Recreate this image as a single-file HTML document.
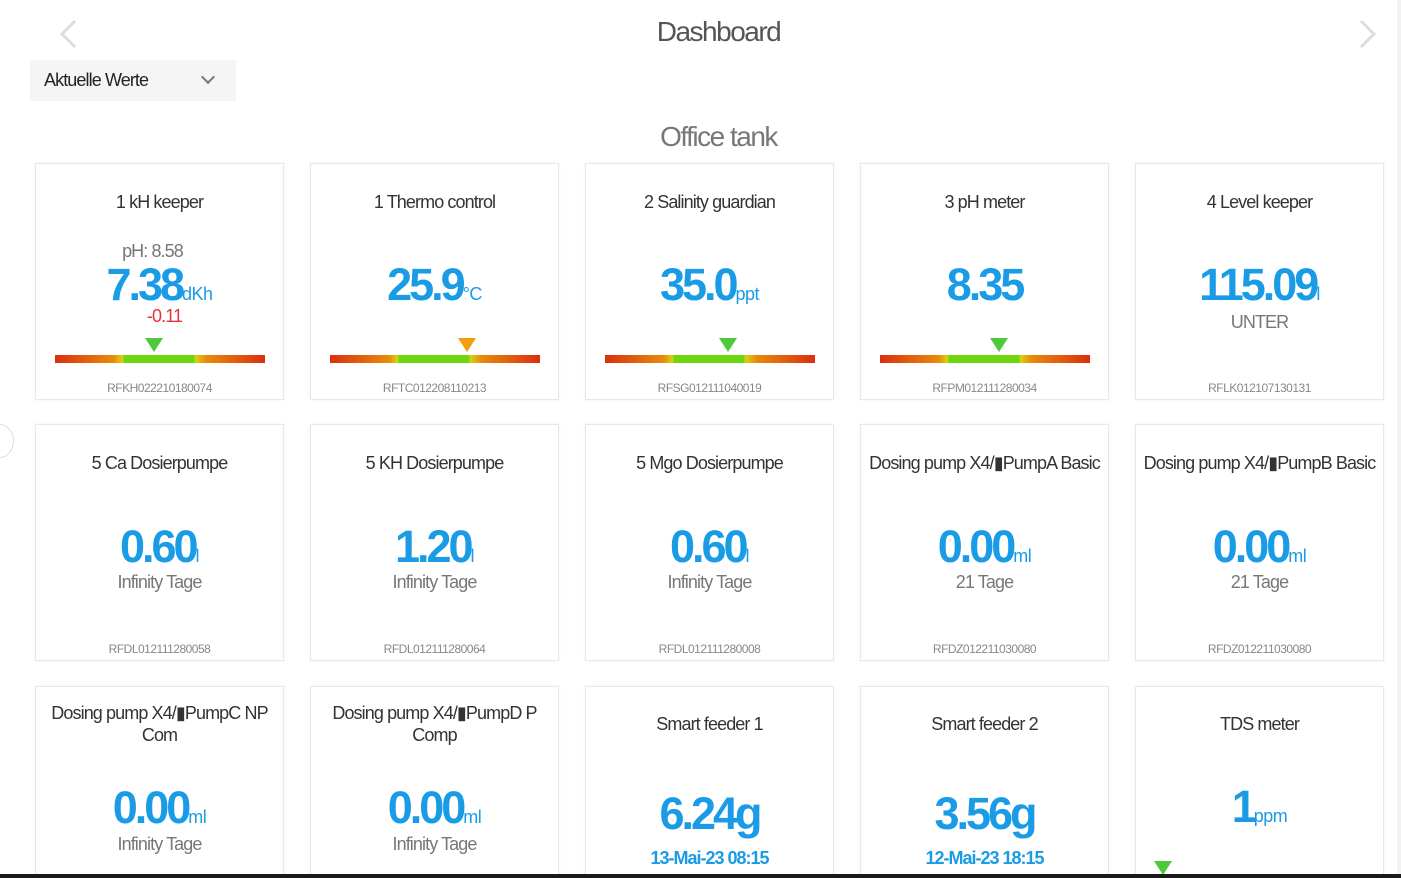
<!DOCTYPE html>
<html style="height:878px;overflow:hidden"><head><meta charset="utf-8"><style>
*{margin:0;padding:0;box-sizing:border-box}
body{width:1401px;height:878px;overflow:hidden;background:#fff;position:relative;font-family:"Liberation Sans Narrow","Liberation Sans",sans-serif}
.a{position:absolute;left:0;right:0;text-align:center;white-space:nowrap}
.card{position:absolute;width:249px;height:237px;background:#fff;border:1px solid #e8e8e8;box-shadow:0 0 3px rgba(0,0,0,.06);overflow:hidden}
.r3{height:200px}
.t{font-size:18px;color:#333;line-height:22px;letter-spacing:-0.9px}
.v{font-size:45px;font-weight:bold;color:#1a9be6;line-height:50px;letter-spacing:-3px}
.v small{font-size:18px;font-weight:normal;letter-spacing:-0.5px}
.s{font-size:18px;color:#777;line-height:22px;letter-spacing:-0.9px}
.sn{font-size:12px;color:#888;line-height:14px;letter-spacing:-0.5px}
.bar{position:absolute;left:19px;width:210px;height:8px;top:191px;background:linear-gradient(90deg,#d9300f 0%,#e88a0c 28%,#d9d10c 32%,#6ed60f 33%,#6ed60f 66%,#d9d10c 67%,#e88a0c 72%,#d9300f 100%)}
.tri{position:absolute;width:0;height:0;border-left:9px solid transparent;border-right:9px solid transparent;border-top:14px solid #4fc93c;top:174px}
</style></head><body>
<div style="position:absolute;left:64px;top:24px;width:20px;height:20px;border-left:3px solid #ddd;border-bottom:3px solid #ddd;transform:rotate(45deg)"></div>
<div style="position:absolute;left:1352px;top:24px;width:20px;height:20px;border-right:3px solid #ddd;border-top:3px solid #ddd;transform:rotate(45deg)"></div>
<div class="a" style="top:15px;left:36px;font-size:28px;color:#555;line-height:34px;letter-spacing:-1.5px">Dashboard</div>
<div style="position:absolute;left:30px;top:60px;width:206px;height:41px;background:#f5f5f5"></div>
<div style="position:absolute;left:44px;top:69px;font-size:18px;color:#222;line-height:22px;letter-spacing:-0.9px">Aktuelle Werte</div>
<div style="position:absolute;left:203px;top:72px;width:10px;height:10px;border-right:2px solid #777;border-bottom:2px solid #777;transform:rotate(45deg)"></div>
<div class="a" style="top:120px;left:36px;font-size:28px;color:#777;line-height:34px;letter-spacing:-1.5px">Office tank</div>
<div style="position:absolute;left:-14px;top:424px;width:28px;height:34px;border:1px solid #ddd;border-radius:50%;background:#fff"></div>
<div style="position:absolute;left:1397px;top:0;width:4px;height:878px;background:#f2f2f2"></div>

<div class="card" style="left:35px;top:163px">
<div class="a t" style="top:27px">1 kH keeper</div>
<div class="a s" style="top:76px;left:-14px">pH: 8.58</div>
<div class="a v" style="top:96px">7.38<small>dKh</small></div>
<div class="a" style="top:141px;font-size:18px;color:#e8323c;line-height:22px;left:10px;letter-spacing:-0.9px">-0.11</div>
<div class="tri" style="left:109px"></div><div class="bar"></div>
<div class="a sn" style="top:217px">RFKH022210180074</div></div>

<div class="card" style="left:310px;top:163px">
<div class="a t" style="top:27px">1 Thermo control</div>
<div class="a v" style="top:96px">25.9<small>°C</small></div>
<div class="tri" style="left:147px;border-top-color:#f0a00c"></div><div class="bar"></div>
<div class="a sn" style="top:217px">RFTC012208110213</div></div>

<div class="card" style="left:585px;top:163px">
<div class="a t" style="top:27px">2 Salinity guardian</div>
<div class="a v" style="top:96px">35.0<small>ppt</small></div>
<div class="tri" style="left:133px"></div><div class="bar"></div>
<div class="a sn" style="top:217px">RFSG012111040019</div></div>

<div class="card" style="left:860px;top:163px">
<div class="a t" style="top:27px">3 pH meter</div>
<div class="a v" style="top:96px">8.35</div>
<div class="tri" style="left:129px"></div><div class="bar"></div>
<div class="a sn" style="top:217px">RFPM012111280034</div></div>

<div class="card" style="left:1135px;top:163px">
<div class="a t" style="top:27px">4 Level keeper</div>
<div class="a v" style="top:96px">115.09<small>l</small></div>
<div class="a s" style="top:147px">UNTER</div>
<div class="a sn" style="top:217px">RFLK012107130131</div></div>

<div class="card" style="left:35px;top:424px">
<div class="a t" style="top:27px">5 Ca Dosierpumpe</div>
<div class="a v" style="top:97px">0.60<small>l</small></div>
<div class="a s" style="top:146px">Infinity Tage</div>
<div class="a sn" style="top:217px">RFDL012111280058</div></div>
<div class="card" style="left:310px;top:424px">
<div class="a t" style="top:27px">5 KH Dosierpumpe</div>
<div class="a v" style="top:97px">1.20<small>l</small></div>
<div class="a s" style="top:146px">Infinity Tage</div>
<div class="a sn" style="top:217px">RFDL012111280064</div></div>
<div class="card" style="left:585px;top:424px">
<div class="a t" style="top:27px">5 Mgo Dosierpumpe</div>
<div class="a v" style="top:97px">0.60<small>l</small></div>
<div class="a s" style="top:146px">Infinity Tage</div>
<div class="a sn" style="top:217px">RFDL012111280008</div></div>
<div class="card" style="left:860px;top:424px">
<div class="a t" style="top:27px">Dosing pump X4/▮PumpA Basic</div>
<div class="a v" style="top:97px">0.00<small>ml</small></div>
<div class="a s" style="top:146px">21 Tage</div>
<div class="a sn" style="top:217px">RFDZ012211030080</div></div>
<div class="card" style="left:1135px;top:424px">
<div class="a t" style="top:27px">Dosing pump X4/▮PumpB Basic</div>
<div class="a v" style="top:97px">0.00<small>ml</small></div>
<div class="a s" style="top:146px">21 Tage</div>
<div class="a sn" style="top:217px">RFDZ012211030080</div></div>

<div class="card r3" style="left:35px;top:686px">
<div class="a t" style="top:15px">Dosing pump X4/▮PumpC NP</div>
<div class="a t" style="top:37px">Com</div>
<div class="a v" style="top:96px">0.00<small>ml</small></div>
<div class="a s" style="top:146px">Infinity Tage</div></div>
<div class="card r3" style="left:310px;top:686px">
<div class="a t" style="top:15px">Dosing pump X4/▮PumpD P</div>
<div class="a t" style="top:37px">Comp</div>
<div class="a v" style="top:96px">0.00<small>ml</small></div>
<div class="a s" style="top:146px">Infinity Tage</div></div>
<div class="card r3" style="left:585px;top:686px">
<div class="a t" style="top:26px">Smart feeder 1</div>
<div class="a v" style="top:102px">6.24g</div>
<div class="a" style="top:160px;font-size:18px;color:#1a9be6;font-weight:bold;line-height:22px;letter-spacing:-1px">13-Mai-23 08:15</div></div>
<div class="card r3" style="left:860px;top:686px">
<div class="a t" style="top:26px">Smart feeder 2</div>
<div class="a v" style="top:102px">3.56g</div>
<div class="a" style="top:160px;font-size:18px;color:#1a9be6;font-weight:bold;line-height:22px;letter-spacing:-1px">12-Mai-23 18:15</div></div>
<div class="card r3" style="left:1135px;top:686px">
<div class="a t" style="top:26px">TDS meter</div>
<div class="a v" style="top:95px">1<small>ppm</small></div>
<div class="tri" style="left:18px;top:174px"></div></div>

<div style="position:absolute;left:0;top:874px;width:1401px;height:4px;background:#1a1a1a"></div>
</body></html>
